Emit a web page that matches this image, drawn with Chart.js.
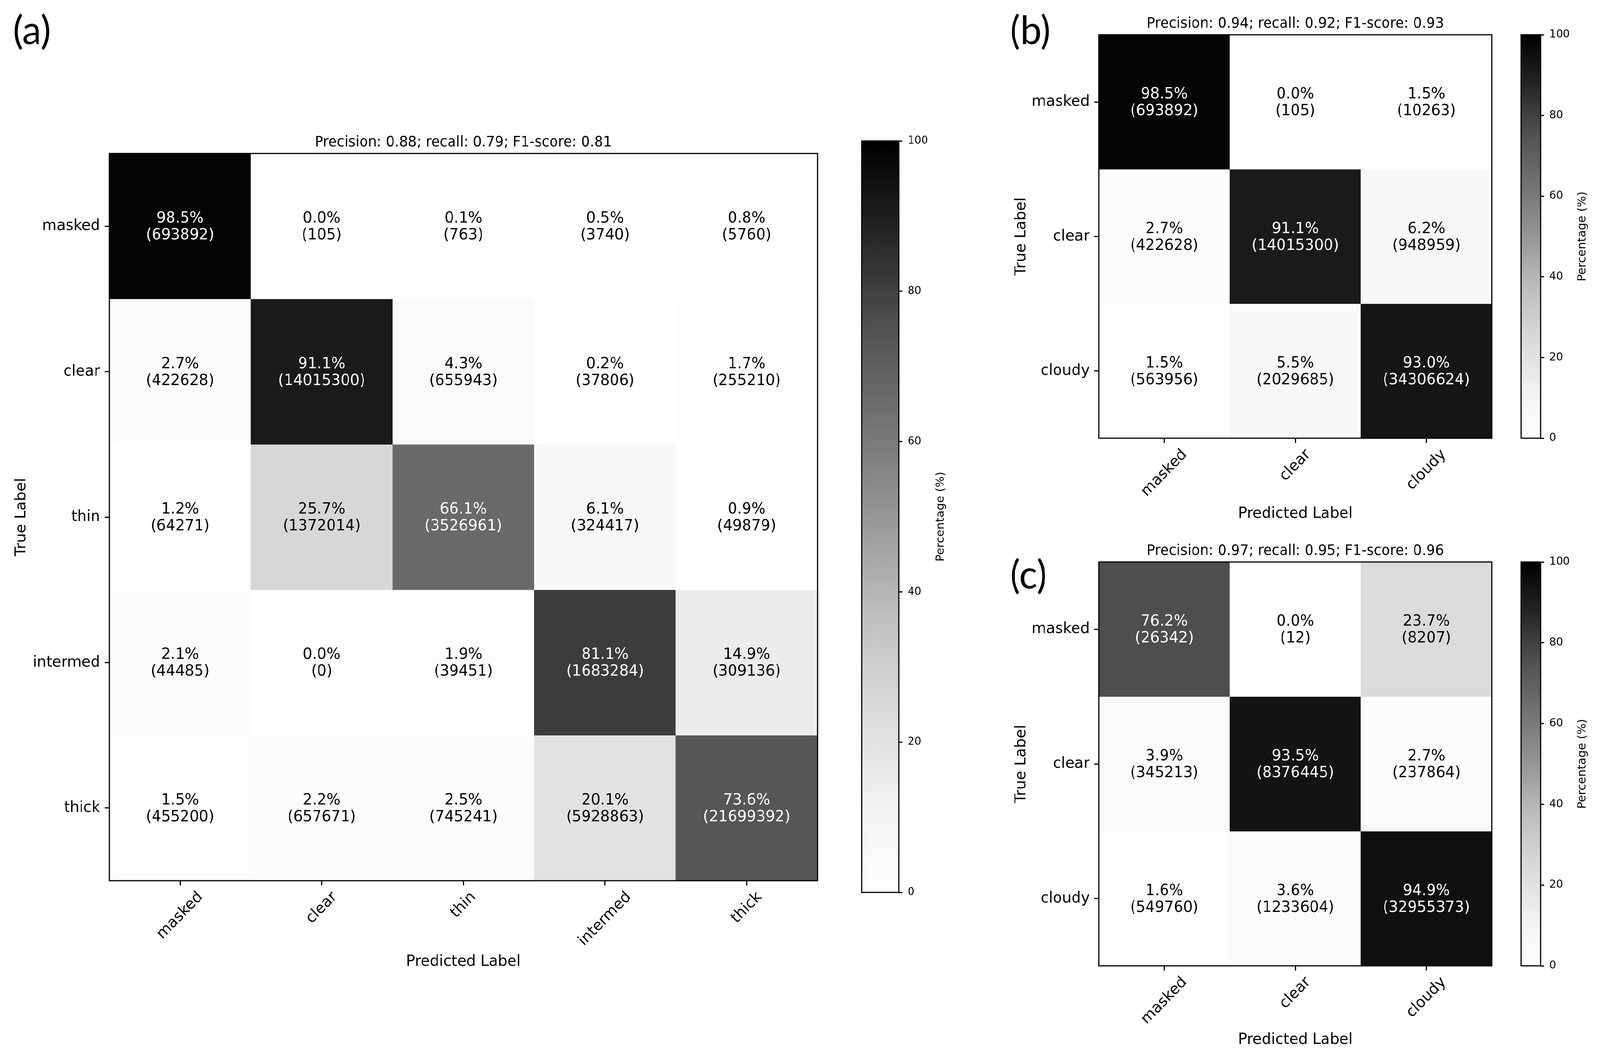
<!DOCTYPE html>
<html>
<head>
  <title>Confusion matrices</title>
  <script src="https://cdn.jsdelivr.net/npm/chart.js"></script>
  <style>
    html, body { margin: 0; padding: 0; background: #fff; overflow: hidden; }
    #page { position: absolute; left: 0; top: 0; width: 4204px; height: 2709px; transform-origin: 0 0; }
    canvas { position: absolute; }
  </style>
</head>
<body>
  <div id="page"></div>
  <script>
    // class names (true label = rows, predicted label = columns)
    const labelsA = ['masked', 'clear', 'thin', 'intermed', 'thick'];
    const labelsB = ['masked', 'clear', 'cloudy'];
    const labelsC = ['masked', 'clear', 'cloudy'];

    // row-normalised percentages and raw pixel counts
    const pctA = [
      [98.5, 0.0, 0.1, 0.5, 0.8],
      [2.7, 91.1, 4.3, 0.2, 1.7],
      [1.2, 25.7, 66.1, 6.1, 0.9],
      [2.1, 0.0, 1.9, 81.1, 14.9],
      [1.5, 2.2, 2.5, 20.1, 73.6]
    ];
    const countA = [
      [693892, 105, 763, 3740, 5760],
      [422628, 14015300, 655943, 37806, 255210],
      [64271, 1372014, 3526961, 324417, 49879],
      [44485, 0, 39451, 1683284, 309136],
      [455200, 657671, 745241, 5928863, 21699392]
    ];
    const pctB = [
      [98.5, 0.0, 1.5],
      [2.7, 91.1, 6.2],
      [1.5, 5.5, 93.0]
    ];
    const countB = [
      [693892, 105, 10263],
      [422628, 14015300, 948959],
      [563956, 2029685, 34306624]
    ];
    const pctC = [
      [76.2, 0.0, 23.7],
      [3.9, 93.5, 2.7],
      [1.6, 3.6, 94.9]
    ];
    const countC = [
      [26342, 12, 8207],
      [345213, 8376445, 237864],
      [549760, 1233604, 32955373]
    ];

    const titleA = 'Precision: 0.88; recall: 0.79; F1-score: 0.81';
    const titleB = 'Precision: 0.94; recall: 0.92; F1-score: 0.93';
    const titleC = 'Precision: 0.97; recall: 0.95; F1-score: 0.96';

    const FONT = "'DejaVu Sans', sans-serif";
    // matplotlib "Greys" colour map anchor levels
    const greyStops = [255, 240, 217, 189, 150, 115, 82, 37, 0];

    // the browser caps the viewport width, so stretch the 4204x2709 layout onto it
    const page = document.getElementById('page');
    page.style.transform = `scale(${window.innerWidth / 4204}, ${window.innerHeight / 2709})`;

    function grey(v) {
      const t = Math.min(Math.max(v / 100, 0), 1) * 8;
      const i = Math.min(Math.floor(t), 7);
      const g = Math.round(greyStops[i] + (greyStops[i + 1] - greyStops[i]) * (t - i));
      return `rgb(${g},${g},${g})`;
    }

    function makeCanvas(box) {
      const c = document.createElement('canvas');
      c.width = box.w;
      c.height = box.h;
      c.style.left = box.x + 'px';
      c.style.top = box.y + 'px';
      c.style.width = box.w + 'px';
      c.style.height = box.h + 'px';
      page.appendChild(c);
      return c;
    }

    const matrixText = {
      id: 'matrixText',
      afterDraw(chart, args, o) {
        const { ctx, chartArea: a } = chart;
        ctx.save();
        ctx.textAlign = 'center';
        ctx.textBaseline = 'alphabetic';
        ctx.font = `39px ${FONT}`;
        o.pct.forEach((row, i) => {
          const meta = chart.getDatasetMeta(i);
          row.forEach((p, j) => {
            const el = meta.data[j];
            const cy = (el.y + el.base) / 2;
            ctx.fillStyle = p > 50 ? '#fff' : '#000';
            ctx.fillText(p.toFixed(1) + '%', el.x, cy - 9);
            ctx.fillText('(' + o.count[i][j] + ')', el.x, cy + 34);
          });
        });

        ctx.strokeStyle = '#000';
        ctx.lineWidth = 3;
        ctx.strokeRect(a.left, a.top, a.right - a.left, a.bottom - a.top);

        // rotated x tick labels, centred under each tick like matplotlib
        const xs = chart.scales.x;
        ctx.fillStyle = '#000';
        ctx.textBaseline = 'middle';
        o.labels.forEach((lab, j) => {
          const w = ctx.measureText(lab).width;
          const half = (w + 45) * Math.SQRT1_2 / 2;
          ctx.save();
          ctx.translate(xs.getPixelForValue(j), a.bottom + 20 + half);
          ctx.rotate(-Math.PI / 4);
          ctx.fillText(lab, 0, 0);
          ctx.restore();
        });

        ctx.textBaseline = 'alphabetic';
        ctx.fillText('Predicted Label', (a.left + a.right) / 2, a.bottom + o.xGap);
        ctx.save();
        ctx.translate(a.left - o.yGap, (a.top + a.bottom) / 2);
        ctx.rotate(-Math.PI / 2);
        ctx.fillText('True Label', 0, 0);
        ctx.restore();

        ctx.font = `36.5px ${FONT}`;
        ctx.fillText(o.title, (a.left + a.right) / 2, a.top - 18);

        ctx.font = "100px Lato, 'Open Sans', sans-serif";
        ctx.textAlign = 'left';
        ctx.fillText(o.panel, o.panelX, o.panelY);
        ctx.restore();
      }
    };

    const cbarText = {
      id: 'cbarText',
      afterDraw(chart) {
        const { ctx, chartArea: a } = chart;
        ctx.save();
        ctx.strokeStyle = '#000';
        ctx.lineWidth = 3;
        ctx.strokeRect(a.left, a.top, a.right - a.left, a.bottom - a.top);
        ctx.fillStyle = '#000';
        ctx.font = `30px ${FONT}`;
        ctx.textAlign = 'center';
        ctx.textBaseline = 'alphabetic';
        ctx.translate(a.right + 118, (a.top + a.bottom) / 2);
        ctx.rotate(-Math.PI / 2);
        ctx.fillText('Percentage (%)', 0, 0);
        ctx.restore();
      }
    };

    function drawMatrix(p) {
      const canvas = makeCanvas(p.box);
      const [l, t, r, b] = p.area;
      const n = p.labels.length;
      new Chart(canvas, {
        type: 'bar',
        data: {
          labels: p.labels,
          datasets: p.pct.map((row, i) => ({
            data: row.map(() => [i, i + 1]),
            backgroundColor: row.map(v => grey(v)),
            borderWidth: 0,
            barPercentage: 1,
            categoryPercentage: 1,
            grouped: false
          }))
        },
        options: {
          responsive: false,
          animation: false,
          devicePixelRatio: 1,
          layout: { padding: { left: l - 200, top: t, right: p.box.w - r, bottom: p.box.h - b - 150 } },
          plugins: {
            legend: { display: false },
            tooltip: { enabled: false },
            matrixText: {
              labels: p.labels, pct: p.pct, count: p.count, title: p.title,
              panel: p.panel, panelX: p.panelX, panelY: p.panelY, xGap: p.xGap, yGap: p.yGap
            }
          },
          scales: {
            x: {
              type: 'category',
              offset: true,
              afterFit: s => { s.height = 150; },
              ticks: { display: false },
              grid: { offset: false, drawOnChartArea: false, tickLength: 12, tickWidth: 3, tickColor: '#000' },
              border: { display: false }
            },
            y: {
              type: 'linear',
              min: 0,
              max: n,
              reverse: true,
              afterBuildTicks: s => { s.ticks = p.labels.map((_, i) => ({ value: i + 0.5 })); },
              afterFit: s => { s.width = 200; },
              ticks: {
                autoSkip: false,
                padding: 12,
                color: '#000',
                font: { family: FONT, size: 39 },
                callback: (v, i) => p.labels[i]
              },
              grid: { drawOnChartArea: false, tickLength: 12, tickWidth: 3, tickColor: '#000' },
              border: { display: false }
            }
          }
        },
        plugins: [matrixText]
      });
    }

    function drawColorbar(box, area) {
      const canvas = makeCanvas(box);
      const [l, t, r, b] = area;
      new Chart(canvas, {
        type: 'bar',
        data: {
          labels: [''],
          datasets: [{
            data: [[0, 100]],
            backgroundColor: c => {
              const ch = c.chart;
              const a = ch.chartArea;
              if (!a) return '#888';
              const g = ch.ctx.createLinearGradient(0, a.bottom, 0, a.top);
              greyStops.forEach((v, k) => g.addColorStop(k / 8, `rgb(${v},${v},${v})`));
              return g;
            },
            borderWidth: 0,
            barPercentage: 1,
            categoryPercentage: 1
          }]
        },
        options: {
          responsive: false,
          animation: false,
          devicePixelRatio: 1,
          layout: { padding: { left: l, top: t, right: box.w - r - 100, bottom: box.h - b } },
          plugins: { legend: { display: false }, tooltip: { enabled: false } },
          scales: {
            x: { display: false, offset: true },
            y: {
              position: 'right',
              min: 0,
              max: 100,
              afterFit: s => { s.width = 100; },
              ticks: { stepSize: 20, padding: 14, color: '#000', font: { family: FONT, size: 28 } },
              grid: { drawOnChartArea: false, tickLength: 9, tickWidth: 3, tickColor: '#000' },
              border: { display: false }
            }
          }
        },
        plugins: [cbarText]
      });
    }

    drawMatrix({
      box: { x: 0, y: 0, w: 2200, h: 2709 }, area: [287, 393, 2148, 2255],
      labels: labelsA, pct: pctA, count: countA, title: titleA,
      panel: '(a)', panelX: 34, panelY: 113, xGap: 218, yGap: 220
    });
    drawColorbar({ x: 2200, y: 0, w: 400, h: 2709 }, [64, 361, 162, 2285]);

    drawMatrix({
      box: { x: 2600, y: 0, w: 1380, h: 1380 }, area: [287, 89, 1320, 1122],
      labels: labelsB, pct: pctB, count: countB, title: titleB,
      panel: '(b)', panelX: 54, panelY: 113, xGap: 204, yGap: 193
    });
    drawColorbar({ x: 3980, y: 0, w: 224, h: 1380 }, [17, 89, 68, 1122]);

    drawMatrix({
      box: { x: 2600, y: 1380, w: 1380, h: 1329 }, area: [287, 59, 1320, 1093],
      labels: labelsC, pct: pctC, count: countC, title: titleC,
      panel: '(c)', panelX: 54, panelY: 127, xGap: 200, yGap: 193
    });
    drawColorbar({ x: 3980, y: 1380, w: 224, h: 1329 }, [17, 59, 68, 1093]);
  </script>
</body>
</html>
